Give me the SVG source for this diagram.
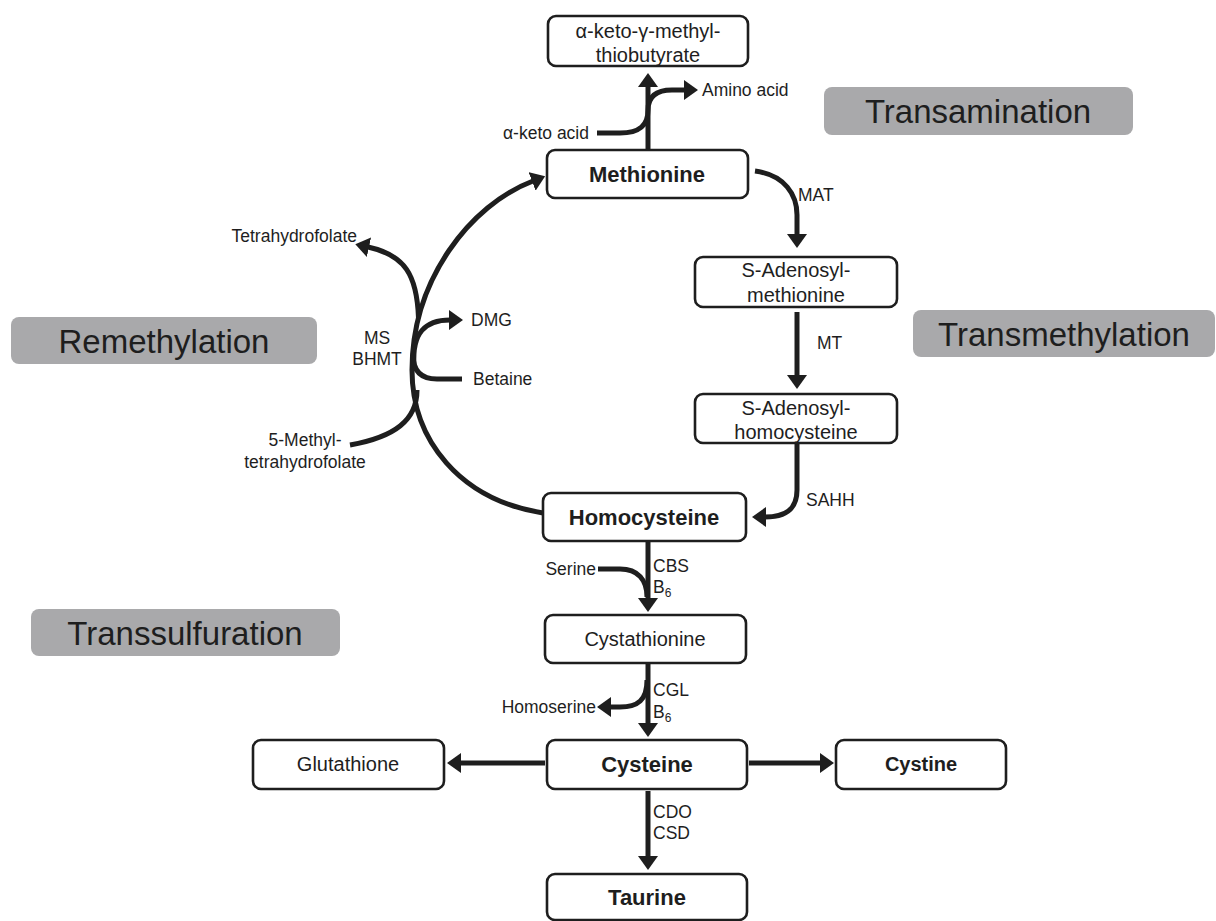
<svg xmlns="http://www.w3.org/2000/svg" width="1216" height="921" viewBox="0 0 1216 921">
<defs>
<style>
.box{fill:#fff;stroke:#1e1e1e;stroke-width:2.6}
.gbox{fill:#a9a9ab;stroke:none}
.t{font-family:"Liberation Sans",Arial,sans-serif;fill:#1e1e1e;text-anchor:middle}
.n{font-size:20px}
.b{font-size:22px;font-weight:bold}
.s{font-size:17.5px}
.g{font-size:33px}
.c{fill:none;stroke:#1e1e1e;stroke-width:5}
</style>
<marker id="ah" markerUnits="userSpaceOnUse" markerWidth="14" markerHeight="20" viewBox="0 0 14 20" refX="1" refY="10" orient="auto">
<path d="M0,0 L14,10 L0,20 Z" fill="#1e1e1e"/>
</marker>
</defs>
<rect width="1216" height="921" fill="#fff"/>

<g id="label-transamination"><rect class="gbox" x="824" y="87" width="309" height="48" rx="8"/><text class="t g" x="978" y="123">Transamination</text></g>
<g id="label-transmethylation"><rect class="gbox" x="913" y="310" width="302" height="47" rx="8"/><text class="t g" x="1064" y="346">Transmethylation</text></g>
<g id="label-remethylation"><rect class="gbox" x="11" y="317" width="306" height="47" rx="8"/><text class="t g" x="164" y="353">Remethylation</text></g>
<g id="label-transsulfuration"><rect class="gbox" x="31" y="609" width="309" height="47" rx="8"/><text class="t g" x="185" y="645">Transsulfuration</text></g>

<g id="connectors">
<path class="c" d="M648,150 L648,86" marker-end="url(#ah)"/>
<path class="c" d="M597,133 L620,133 C640,133 648,125 648,110 C648,97 656,90 672,90 L685,90" marker-end="url(#ah)"/>
<path class="c" d="M755,171 C785,175 797,195 797,215 L797,235" marker-end="url(#ah)"/>
<path class="c" d="M797,312 L797,376" marker-end="url(#ah)"/>
<path class="c" d="M797,443 L797,490 C797,510 785,517 765,517" marker-end="url(#ah)"/>
<path class="c" d="M543,513 C460,500 412,440 412,370 C412,280 470,205 533,181" marker-end="url(#ah)"/>
<path class="c" d="M418.5,318 C417,275 405,255 368,247" marker-end="url(#ah)"/>
<path class="c" d="M350,445 C395,437 417,420 417,390"/>
<path class="c" d="M414,365 C412,333 425,320 450,320" marker-end="url(#ah)"/>
<path class="c" d="M462,379 L437,379 C420,379 413,370 413,355"/>
<path class="c" d="M648,541 L648,599" marker-end="url(#ah)"/>
<path class="c" d="M598,569 L620,569 C638,569 647,580 647,597"/>
<path class="c" d="M648,663 L648,724" marker-end="url(#ah)"/>
<path class="c" d="M647,680 C647,700 638,707 620,707 L610,707" marker-end="url(#ah)"/>
<path class="c" d="M545,763 L460,763" marker-end="url(#ah)"/>
<path class="c" d="M749,763 L821,763" marker-end="url(#ah)"/>
<path class="c" d="M648,791 L648,857" marker-end="url(#ah)"/>
</g>

<g id="side-labels">
<text class="t s" x="546" y="139">α-keto acid</text>
<text class="t s" x="702" y="96" style="text-anchor:start">Amino acid</text>
<text class="t s" x="798" y="201" style="text-anchor:start">MAT</text>
<text class="t s" x="817" y="349" style="text-anchor:start">MT</text>
<text class="t s" x="806" y="506" style="text-anchor:start">SAHH</text>
<text class="t s" x="357" y="242" style="text-anchor:end">Tetrahydrofolate</text>
<text class="t s" x="377" y="344">MS</text>
<text class="t s" x="377" y="365">BHMT</text>
<text class="t s" x="471" y="326" style="text-anchor:start">DMG</text>
<text class="t s" x="473" y="385" style="text-anchor:start">Betaine</text>
<text class="t s" x="305" y="446">5-Methyl-</text>
<text class="t s" x="305" y="468">tetrahydrofolate</text>
<text class="t s" x="596" y="575" style="text-anchor:end">Serine</text>
<text class="t s" x="653" y="572" style="text-anchor:start">CBS</text>
<text class="t s" x="653" y="593" style="text-anchor:start">B<tspan font-size="12" dy="4">6</tspan></text>
<text class="t s" x="596" y="713" style="text-anchor:end">Homoserine</text>
<text class="t s" x="653" y="696" style="text-anchor:start">CGL</text>
<text class="t s" x="653" y="718" style="text-anchor:start">B<tspan font-size="12" dy="4">6</tspan></text>
<text class="t s" x="653" y="818" style="text-anchor:start">CDO</text>
<text class="t s" x="653" y="839" style="text-anchor:start">CSD</text>
</g>

<g id="node-kmtb"><rect class="box" x="548" y="16" width="200" height="50" rx="8"/><text class="t n" x="648" y="38">α-keto-γ-methyl-</text><text class="t n" x="648" y="62">thiobutyrate</text></g>
<g id="node-methionine"><rect class="box" x="547" y="150" width="201" height="48" rx="8"/><text class="t b" x="647" y="182">Methionine</text></g>
<g id="node-sam"><rect class="box" x="695" y="257" width="202" height="50" rx="8"/><text class="t n" x="796" y="277">S-Adenosyl-</text><text class="t n" x="796" y="302">methionine</text></g>
<g id="node-sah"><rect class="box" x="695" y="394" width="202" height="49" rx="8"/><text class="t n" x="796" y="415">S-Adenosyl-</text><text class="t n" x="796" y="439">homocysteine</text></g>
<g id="node-homocysteine"><rect class="box" x="543" y="493" width="203" height="48" rx="8"/><text class="t b" x="644" y="525">Homocysteine</text></g>
<g id="node-cystathionine"><rect class="box" x="545" y="615" width="201" height="48" rx="8"/><text class="t n" x="645" y="646">Cystathionine</text></g>
<g id="node-cysteine"><rect class="box" x="547" y="740" width="200" height="49" rx="8"/><text class="t b" x="647" y="772">Cysteine</text></g>
<g id="node-glutathione"><rect class="box" x="253" y="740" width="191" height="49" rx="8"/><text class="t n" x="348" y="771">Glutathione</text></g>
<g id="node-cystine"><rect class="box" x="836" y="740" width="170" height="49" rx="8"/><text class="t n" x="921" y="771" font-weight="bold">Cystine</text></g>
<g id="node-taurine"><rect class="box" x="547" y="874" width="200" height="46" rx="8"/><text class="t b" x="647" y="905">Taurine</text></g>
</svg>
